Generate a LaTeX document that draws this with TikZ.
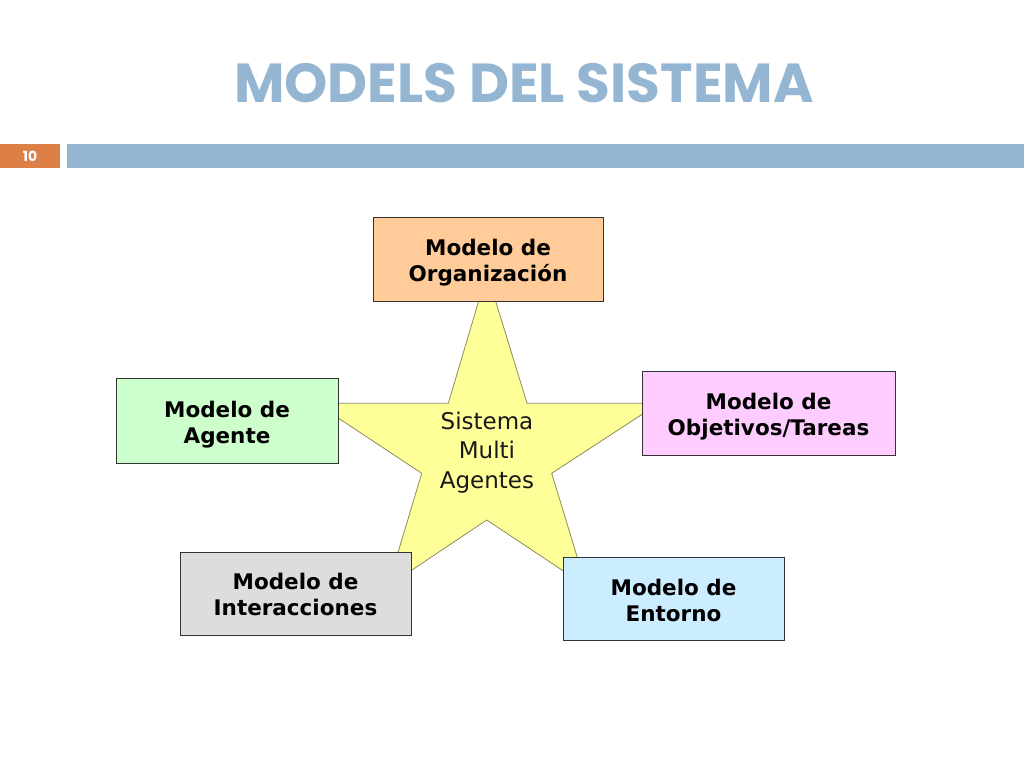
\documentclass[tikz,border=0pt]{standalone}
\usepackage{fontspec}
\setmainfont{DejaVu Sans}
\newfontfamily\titlefont{Poppins}
\definecolor{titleblue}{HTML}{94B6D2}
\definecolor{barorange}{HTML}{DD8047}
\definecolor{orgfill}{HTML}{FFCC99}
\definecolor{agefill}{HTML}{CCFFCC}
\definecolor{objfill}{HTML}{FFCCFF}
\definecolor{intfill}{HTML}{DDDDDD}
\definecolor{entfill}{HTML}{CCECFF}
\definecolor{starfill}{HTML}{FFFF99}
\definecolor{starline}{HTML}{8C8C5A}
\tikzset{
  modelbox/.style={draw=black!80, line width=0.9pt, inner sep=0pt},
  modeltext/.style={align=center, inner sep=0pt,
    font=\fontsize{21.5}{26}\selectfont\bfseries},
}
\begin{document}
\begin{tikzpicture}[x=1pt,y=-1pt]
\useasboundingbox (0,0) rectangle (1024,768);
% title
\node[font=\titlefont\fontsize{55}{60}\selectfont\bfseries, text=titleblue, anchor=base] (title) at (524,102) {MODELS DEL SISTEMA};
% bars
\fill[barorange] (0,144) rectangle (60,168);
\fill[titleblue] (67,144) rectangle (1024,168);
\node[font=\titlefont\fontsize{14}{14}\selectfont\bfseries, text=white] (pagenum) at (30,156) {10};
% star
\filldraw[fill=starfill, draw=starline, line width=0.8pt]
  (487,273) -- (527,403.3) -- (659,403.3) -- (551.7,473.3) -- (586,586)
  -- (486.7,520) -- (388,586) -- (421.7,473.3) -- (316,403.3) -- (448.3,403.3) -- cycle;
\node[font=\fontsize{23}{29.5}\selectfont, align=center, text=black!90] (sma) at (487,452.5) {Sistema\\Multi\\Agentes};
% boxes
\node[modelbox, fill=orgfill, minimum width=230, minimum height=84,
  label={[modeltext, yshift=-4]center:Modelo de\\Organización}] (org) at (488,259) {};
\node[modelbox, fill=agefill, minimum width=222, minimum height=85,
  label={[modeltext, yshift=-4]center:Modelo de\\Agente}] (age) at (227,420.5) {};
\node[modelbox, fill=objfill, minimum width=253, minimum height=84,
  label={[modeltext, yshift=-4]center:Modelo de\\Objetivos/Tareas}] (obj) at (768.5,413) {};
\node[modelbox, fill=intfill, minimum width=231, minimum height=83,
  label={[modeltext, yshift=-1]center:Modelo de\\Interacciones}] (int) at (295.5,593.5) {};
\node[modelbox, fill=entfill, minimum width=221, minimum height=83,
  label={[modeltext, yshift=-1.5]center:Modelo de\\Entorno}] (ent) at (673.5,598.5) {};
\end{tikzpicture}
\end{document}
